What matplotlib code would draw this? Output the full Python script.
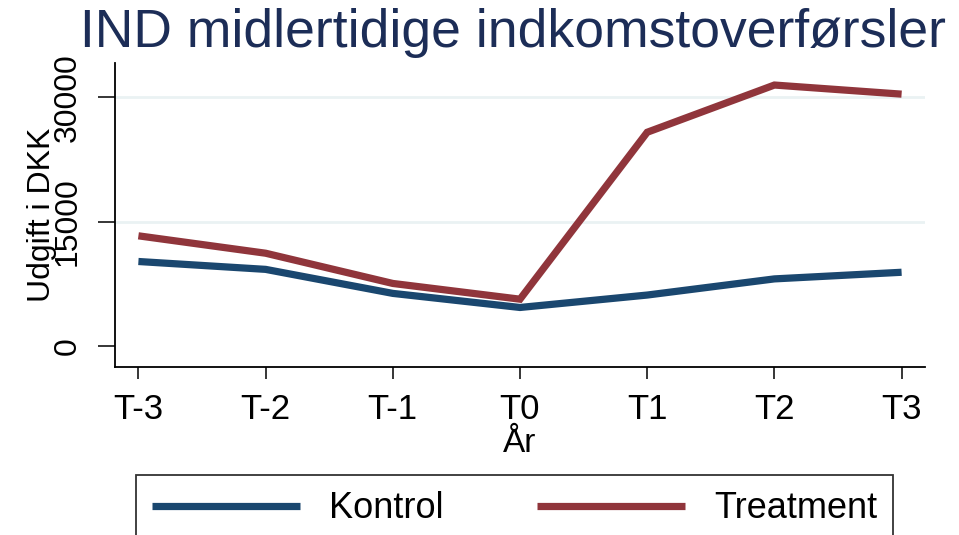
import matplotlib
matplotlib.use("Agg")
import matplotlib.pyplot as plt

plt.rcParams['font.family'] = ['Liberation Sans', 'DejaVu Sans']

# ---- data ----
periods = ["T-3", "T-2", "T-1", "T0", "T1", "T2", "T3"]
kontrol = [10200, 9250, 6350, 4650, 6150, 8100, 8900]
treatment = [13300, 11200, 7550, 5650, 25800, 31500, 30400]
yticks = [0, 15000, 30000]
ytick_labels = ["0", "15000", "30000"]
series_names = ["Kontrol", "Treatment"]
title = "IND midlertidige indkomstoverførsler"
xlabel = "År"
ylabel = "Udgift i DKK"

navy = "#1a476f"
maroon = "#90353b"
grid_col = "#eaf2f3"

W, H = 959, 535
fig = plt.figure(figsize=(W / 100, H / 100), dpi=100)
fig.patch.set_facecolor("white")

left, right, top, bottom = 115, 925, 63, 367
ax = fig.add_axes([left / W, 1 - bottom / H, (right - left) / W, (bottom - top) / H])

x = list(range(len(periods)))
l1, = ax.plot(x, kontrol, color=navy, lw=5.2, solid_joinstyle="miter", solid_capstyle="butt", zorder=3)
l2, = ax.plot(x, treatment, color=maroon, lw=5.2, solid_joinstyle="miter", solid_capstyle="butt", zorder=3)

ax.set_xlim(-0.184, 6.184)
ax.set_ylim(-2535, 34160)

for yv in yticks[1:]:
    ax.axhline(yv, color=grid_col, lw=2, zorder=1)

ax.set_xticks(x)
ax.set_xticklabels(periods, fontsize=25)
ax.set_yticks(yticks)
ax.set_yticklabels(ytick_labels, fontsize=23, rotation=90, va="center")

ax.tick_params(axis="x", length=8.6, width=1.1, pad=10, color="black")
ax.tick_params(axis="y", length=12, width=1.1, pad=11, color="black")

for s in ["top", "right"]:
    ax.spines[s].set_visible(False)
for s in ["left", "bottom"]:
    ax.spines[s].set_linewidth(1.3)
    ax.spines[s].set_color("black")

ax.set_ylabel(ylabel, fontsize=23)
ax.yaxis.set_label_coords(-0.072, 0.5)
ax.set_xlabel(xlabel, fontsize=24, va="top")
ax.xaxis.set_label_coords(0.5, -0.20)

fig.text(512.5 / W, 1 - 47 / H, title, fontsize=38.5, color="#1c2d57",
         ha="center", va="baseline")

leg = fig.legend([l1, l2], series_names, loc="upper center",
                 bbox_to_anchor=(514.5 / W, 1 - 475 / H), ncol=2,
                 fontsize=26, handlelength=4.1, handletextpad=0.8,
                 columnspacing=2.6, borderpad=0.45, borderaxespad=0,
                 frameon=True, fancybox=False)
leg.get_frame().set_edgecolor("black")
leg.get_frame().set_linewidth(1.3)

fig.savefig("out.png", dpi=100, facecolor="white")
